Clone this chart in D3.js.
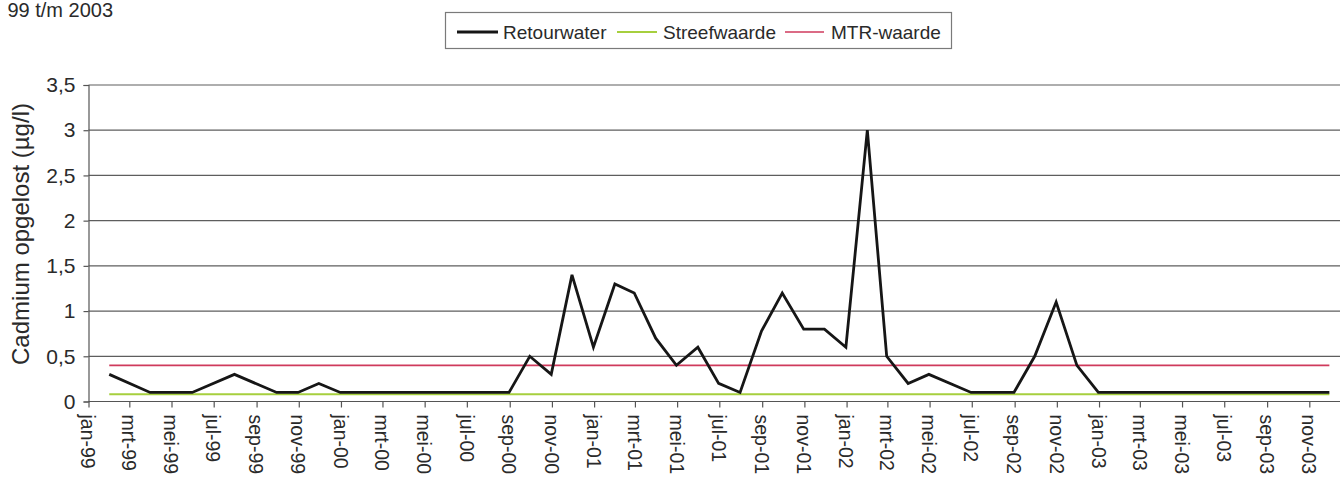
<!DOCTYPE html>
<html>
<head>
<meta charset="utf-8">
<script src="https://cdn.jsdelivr.net/npm/d3@7/dist/d3.min.js"></script>
<style>
  html, body { margin: 0; padding: 0; background: #fff; }
  svg { display: block; }
  text { font-family: "Liberation Sans", Arial, sans-serif; fill: #2a2a2a; }
</style>
</head>
<body>
<svg id="chart" width="1340" height="479"></svg>
<script>
// ---------------- data ----------------
const titleText = "99 t/m 2003";
const yAxisTitle = "Cadmium opgelost (\u00b5g/l)";
const seriesNames = ["Retourwater", "Streefwaarde", "MTR-waarde"];

// sample months (value measured at the end of the month) and dissolved cadmium (µg/l)
const sampleMonths = [
  "1999-01","1999-03","1999-05","1999-07","1999-09","1999-10","1999-11","1999-12",
  "2000-08","2000-09","2000-10","2000-11","2000-12",
  "2001-01","2001-02","2001-03","2001-04","2001-05","2001-06","2001-07","2001-08",
  "2001-09","2001-10","2001-11","2001-12",
  "2002-01","2002-02","2002-03","2002-04","2002-06","2002-08","2002-09","2002-10",
  "2002-11","2002-12",
  "2003-11"
];
const retourwater = [
  0.3, 0.1, 0.1, 0.3, 0.1, 0.1, 0.2, 0.1,
  0.1, 0.5, 0.3, 1.4, 0.6,
  1.3, 1.2, 0.7, 0.4, 0.6, 0.2, 0.1, 0.78,
  1.2, 0.8, 0.8, 0.6,
  3.0, 0.5, 0.2, 0.3, 0.1, 0.1, 0.5, 1.1,
  0.4, 0.1,
  0.1
];
const refMonths = ["1999-01", "2003-11"];
const streefwaarde = [0.08, 0.08];
const mtrWaarde = [0.4, 0.4];

const yTicks = [0, 0.5, 1, 1.5, 2, 2.5, 3, 3.5];
const tickLabels = [
  "jan-99","mrt-99","mei-99","jul-99","sep-99","nov-99",
  "jan-00","mrt-00","mei-00","jul-00","sep-00","nov-00",
  "jan-01","mrt-01","mei-01","jul-01","sep-01","nov-01",
  "jan-02","mrt-02","mei-02","jul-02","sep-02","nov-02",
  "jan-03","mrt-03","mei-03","jul-03","sep-03","nov-03"
];

// ---------------- layout ----------------
const svg = d3.select("#chart");
const L = 88.5, T = 85, B = 401.5;
const parseMonth = d3.timeParse("%Y-%m");
const monthEnd = m => d3.timeDay.offset(d3.timeMonth.offset(parseMonth(m), 1), -1);

const x = d3.scaleTime()
  .domain([new Date(1999, 0, 1), new Date(2004, 0, 1)])
  .range([L, L + 60 * 21.05]);
const y = d3.scaleLinear().domain([0, 3.5]).range([B, T]);

// partial title at top
svg.append("text").attr("x", 113).attr("y", 17).attr("text-anchor", "end")
  .style("font-size", "20px").text(titleText);

// gridlines
svg.append("g").selectAll("line").data(yTicks.filter(d => d > 0)).join("line")
  .attr("x1", L).attr("x2", 1340)
  .attr("y1", d => y(d)).attr("y2", d => y(d))
  .attr("stroke", "#5e5e5e").attr("stroke-width", 1.2);

// y axis
const yAxis = svg.append("g").attr("transform", `translate(${L},0)`)
  .call(d3.axisLeft(y).tickValues(yTicks).tickSize(5).tickPadding(8)
    .tickFormat(d => String(d).replace(".", ",")));
yAxis.select(".domain").attr("stroke", "#555").attr("stroke-width", 1.2);
yAxis.selectAll(".tick line").attr("stroke", "#555").attr("stroke-width", 1.2);
yAxis.selectAll(".tick text").style("font-size", "21px").attr("fill", "#2a2a2a")
  .attr("font-family", null);

// x axis
const tickDates = tickLabels.map((_, i) => new Date(1999, i * 2, 1));
const xAxis = svg.append("g").attr("transform", `translate(0,${B})`)
  .call(d3.axisBottom(x).tickValues(tickDates).tickSize(6)
    .tickFormat((d, i) => tickLabels[i]));
xAxis.select(".domain").attr("d", `M${L},0H1340`).attr("stroke", "#555").attr("stroke-width", 1.2);
xAxis.selectAll(".tick line").attr("stroke", "#555").attr("stroke-width", 1.2);
xAxis.selectAll(".tick text")
  .attr("font-family", null)
  .style("font-size", "19.5px").attr("fill", "#2a2a2a")
  .attr("text-anchor", "start")
  .attr("transform", "translate(-1,13) rotate(90)")
  .attr("x", 0).attr("y", 0).attr("dy", "0.35em");

// y axis title
svg.append("text")
  .attr("transform", "translate(28.5,234) rotate(-90)")
  .attr("text-anchor", "middle").style("font-size", "24px")
  .text(yAxisTitle);

// series
const line = d3.line().x(d => x(d[0])).y(d => y(d[1]));
const refDates = refMonths.map(monthEnd);

svg.append("path")
  .datum(refDates.map((d, i) => [d, streefwaarde[i]]))
  .attr("d", line).attr("fill", "none")
  .attr("stroke", "#a6cf3e").attr("stroke-width", 1.8);

svg.append("path")
  .datum(refDates.map((d, i) => [d, mtrWaarde[i]]))
  .attr("d", line).attr("fill", "none")
  .attr("stroke", "#cf3a5c").attr("stroke-width", 1.6);

svg.append("path")
  .datum(sampleMonths.map((m, i) => [monthEnd(m), retourwater[i]]))
  .attr("d", line).attr("fill", "none")
  .attr("stroke", "#161616").attr("stroke-width", 2.8)
  .attr("stroke-linejoin", "miter");

// legend
const lg = svg.append("g");
lg.append("rect").attr("x", 445.5).attr("y", 12.5).attr("width", 506).attr("height", 36)
  .attr("fill", "#fff").attr("stroke", "#7a7a7a").attr("stroke-width", 1.2);
const legendItems = [
  { name: seriesNames[0], color: "#161616", w: 2.8, x1: 457, x2: 498, tx: 503 },
  { name: seriesNames[1], color: "#a6cf3e", w: 1.8, x1: 617, x2: 657, tx: 663 },
  { name: seriesNames[2], color: "#cf3a5c", w: 1.6, x1: 785, x2: 824, tx: 831 }
];
legendItems.forEach(it => {
  lg.append("line").attr("x1", it.x1).attr("x2", it.x2).attr("y1", 32).attr("y2", 32)
    .attr("stroke", it.color).attr("stroke-width", it.w);
  lg.append("text").attr("x", it.tx).attr("y", 38.5).style("font-size", "19px").text(it.name);
});
</script>
</body>
</html>
